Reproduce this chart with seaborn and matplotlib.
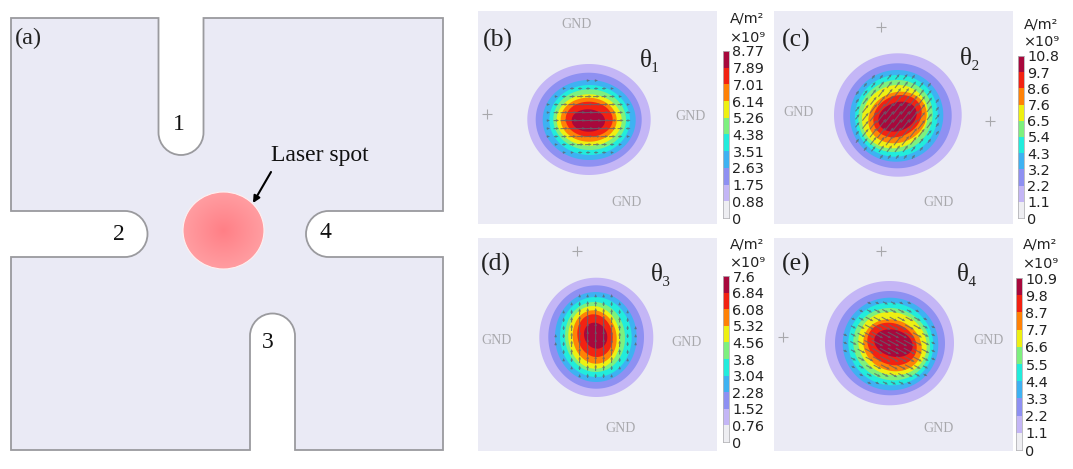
import numpy as np
import matplotlib
matplotlib.use("Agg")
import matplotlib.pyplot as plt
import seaborn as sns
from matplotlib.colors import ListedColormap, LinearSegmentedColormap
from matplotlib.patches import Ellipse, PathPatch, Rectangle
from matplotlib.path import Path

sns.set_theme(style="white")
SERIF = ["Liberation Serif", "DejaVu Sans"]
SANS = ["DejaVu Sans"]

W, H = 1073, 469

# Band colours of the current-density scale, lowest to highest
band_colors = ["#eeeef2", "#c4b6f6", "#8e90f2", "#3eb2f2", "#22ecdc",
               "#7df07e", "#eef012", "#ff8206", "#f22212", "#a8083c"]

# Scale values, top of the bar to the bottom
levels_b = [8.77, 7.89, 7.01, 6.14, 5.26, 4.38, 3.51, 2.63, 1.75, 0.88, 0]
levels_c = [10.8, 9.7, 8.6, 7.6, 6.5, 5.4, 4.3, 3.2, 2.2, 1.1, 0]
levels_d = [7.6, 6.84, 6.08, 5.32, 4.56, 3.8, 3.04, 2.28, 1.52, 0.76, 0]
levels_e = [10.9, 9.8, 8.7, 7.7, 6.6, 5.5, 4.4, 3.3, 2.2, 1.1, 0]

# Contour extents in pixels (left, right, top, bottom), outermost band first
contours_b = [(527.3, 650.7, 64, 175), (535.7, 641.7, 72.7, 166.7),
              (542.7, 635.7, 80, 160), (549.3, 630, 85, 155),
              (553.3, 626, 89.3, 150), (556.7, 621.7, 94.3, 145.7),
              (560.7, 616.7, 97.7, 141.7), (565.7, 612.7, 101.7, 136.7),
              (571.7, 605, 109.3, 131.7)]
contours_c = [(834, 961.7, 53.3, 176.7), (843.3, 951.7, 63.3, 168.3),
              (850, 943.3, 70, 161.7), (855, 937.7, 75, 156.7),
              (858.3, 932.7, 80, 152), (862, 928, 85, 148.3),
              (868.3, 926.7, 91.7, 143.3), (873.3, 921.7, 95, 137.3),
              (878.3, 916.7, 101.7, 131.7)]
contours_d = [(539.3, 653.3, 277.7, 397), (548.3, 644, 285.3, 388.7),
              (555, 636.7, 292, 382), (560, 631.7, 297, 377),
              (565, 625, 302, 372), (568.3, 620, 306, 368.7),
              (572.7, 616.7, 310.3, 363.7), (577.3, 612.7, 314.3, 357),
              (584, 607.3, 322.7, 348.7)]
contours_e = [(825, 954, 281, 405.3), (835, 945, 291, 395.3),
              (842.7, 938.3, 297.7, 390.3), (848.3, 933.3, 302.7, 385.3),
              (853.3, 930, 308, 380.3), (858.3, 926.7, 312, 375.3),
              (863.3, 921.7, 319.3, 371.3), (867.3, 916.7, 322.7, 365.3),
              (874.3, 912.7, 329.3, 357)]

# Current direction per panel in degrees and the skew of its innermost contour
directions = {"b": 3, "c": 52, "d": 88, "e": -28}
skews = {"b": 0.03, "c": -0.22, "d": 0.12, "e": 0.2}
arrow_scale = {"b": 10, "c": 15, "d": 10, "e": 13}

panel_boxes = {"b": (478, 717, 11, 224), "c": (774, 1013, 11, 224),
               "d": (478, 717, 238, 451), "e": (774, 1013, 238, 451)}
bar_boxes = {"b": (723, 729, 51, 218), "c": (1018, 1024, 56, 218),
             "d": (723, 729, 276, 442), "e": (1016, 1022, 278, 450)}
unit_pos = {"b": (747, 19, 38), "c": (1041, 25, 42),
            "d": (747, 245, 263), "e": (1040, 245, 264)}
panel_tag = {"b": (483, 40), "c": (782, 40), "d": (481, 264), "e": (782, 264)}
theta_tag = {"b": ("θ₁", 650, 60), "c": ("θ₂", 970, 58),
             "d": ("θ₃", 661, 275), "e": ("θ₄", 967, 275)}
gnd_labels = {"b": [(576, 24), (691, 116), (627, 203)],
              "c": [(799, 113), (938, 203)],
              "d": [(496, 341), (687, 343), (620, 428)],
              "e": [(989, 341), (938, 428)]}
plus_marks = {"b": [(487, 114.5)], "c": [(881, 27), (990, 121)],
              "d": [(577, 251)], "e": [(783, 337), (881, 251)]}
all_levels = {"b": levels_b, "c": levels_c, "d": levels_d, "e": levels_e}
all_contours = {"b": contours_b, "c": contours_c, "d": contours_d, "e": contours_e}

fig = plt.figure(figsize=(W / 100, H / 100), dpi=100, facecolor="white")
ax = fig.add_axes([0, 0, 1, 1])
ax.set_xlim(0, W)
ax.set_ylim(H, 0)
ax.axis("off")


def device_outline():
    """Cross-slotted sample outline with four rounded contact slots."""
    k = 0.5523
    L, R, T, B = 11, 443, 18, 450
    r = 22.5
    verts, codes = [(L, T)], [Path.MOVETO]

    def line(x, y):
        verts.append((x, y))
        codes.append(Path.LINETO)

    def arc(c1, c2, end):
        verts.extend([c1, c2, end])
        codes.extend([Path.CURVE4] * 3)

    # slot 1, from the top edge
    line(158.5, T)
    line(158.5, 132.5)
    arc((158.5, 132.5 + k * r), (181 - k * r, 155), (181, 155))
    arc((181 + k * r, 155), (203.5, 132.5 + k * r), (203.5, 132.5))
    line(203.5, T)
    line(R, T)
    # slot 4, from the right edge
    line(R, 211)
    line(328.5, 211)
    arc((328.5 - k * r, 211), (306, 234 - k * 23), (306, 234))
    arc((306, 234 + k * 23), (328.5 - k * r, 257), (328.5, 257))
    line(R, 257)
    line(R, B)
    # slot 3, from the bottom edge
    line(295, B)
    line(295, 336)
    arc((295, 336 - k * r), (272.5 + k * r, 313.5), (272.5, 313.5))
    arc((272.5 - k * r, 313.5), (250, 336 - k * r), (250, 336))
    line(250, B)
    line(L, B)
    # slot 2, from the left edge
    line(L, 257)
    line(125, 257)
    arc((125 + k * r, 257), (147.5, 234 + k * 23), (147.5, 234))
    arc((147.5, 234 - k * 23), (125 + k * r, 211), (125, 211))
    line(L, 211)
    verts.append((L, T))
    codes.append(Path.CLOSEPOLY)
    return Path(verts, codes)


ax.add_patch(PathPatch(device_outline(), facecolor="#eaeaf5", edgecolor="#9a9a9e", lw=1.3))

# Laser spot: soft radial fill clipped to the spot outline
spot_cx, spot_cy, spot_rx, spot_ry = 223.5, 230.5, 40.5, 38.5
gx, gy = np.meshgrid(np.linspace(-1, 1, 120), np.linspace(-1, 1, 120))
spot_map = LinearSegmentedColormap.from_list("spot", ["#ff7f86", "#ff9da1"])
spot_img = ax.imshow(np.hypot(gx, gy), cmap=spot_map, vmin=0, vmax=1, aspect="auto", zorder=2,
                     extent=(spot_cx - spot_rx, spot_cx + spot_rx, spot_cy + spot_ry, spot_cy - spot_ry))
ax.set_xlim(0, W)
ax.set_ylim(H, 0)
spot_edge = Ellipse((spot_cx, spot_cy), 2 * spot_rx, 2 * spot_ry, facecolor="none",
                    edgecolor="#fff0f0", lw=0.8, zorder=3)
ax.add_patch(spot_edge)
spot_img.set_clip_path(spot_edge)

ax.annotate("", xy=(253, 203), xytext=(271, 172), zorder=4,
            arrowprops=dict(arrowstyle="-|>", color="black", lw=1.5, mutation_scale=10,
                            shrinkA=0, shrinkB=0))
ax.text(320, 156, "Laser spot", family=SERIF, fontsize=17, color="#111111", ha="center", va="center")
ax.text(15, 38, "(a)", family=SERIF, fontsize=17.5, color="#222222", ha="left", va="center")
for label, x, y in [("1", 179, 125), ("2", 119, 234), ("3", 268, 342), ("4", 325, 233)]:
    ax.text(x, y, label, family=SERIF, fontsize=17, color="#111111", ha="center", va="center")


def band_outline(extent, skew):
    left, right, top, bottom = extent
    t = np.linspace(0, 2 * np.pi, 160)
    cx, cy = (left + right) / 2, (top + bottom) / 2
    rx, ry = (right - left) / 2, (bottom - top) / 2
    return cx + rx * np.cos(t), cy + ry * np.sin(t + skew)


for key, box in panel_boxes.items():
    x0, x1, y0, y1 = box
    ax.add_patch(Rectangle((x0, y0), x1 - x0, y1 - y0, facecolor="#ebebf5", edgecolor="none", zorder=1))

    # Filled contour bands, outermost first; the tilt grows toward the core
    count = len(all_contours[key])
    outlines = [band_outline(extent, skews[key] * (i / (count - 1)) ** 2)
                for i, extent in enumerate(all_contours[key])]
    for i, (ox, oy) in enumerate(outlines):
        ax.fill(ox, oy, color=band_colors[i + 1], lw=0, zorder=2 + i * 0.01)

    # Current-density arrows on a regular grid, scaled by the local band
    inner = all_contours[key]
    icx = (inner[-1][0] + inner[-1][1]) / 2
    icy = (inner[-1][2] + inner[-1][3]) / 2
    gx_, gy_ = np.meshgrid(np.arange(icx - 64, icx + 65, 8), np.arange(icy - 64, icy + 65, 8))
    mags = np.zeros(gx_.shape)
    for i, (ox, oy) in enumerate(outlines):
        path = Path(np.column_stack([ox, oy]))
        hit = path.contains_points(np.column_stack([gx_.ravel(), gy_.ravel()])).reshape(gx_.shape)
        mags[hit] = (i + 1) / len(outlines)
    ang = np.deg2rad(directions[key])
    length = mags * arrow_scale[key]
    keep = mags >= 3 / 9
    ax.quiver(gx_[keep], gy_[keep], (length * np.cos(ang))[keep], (length * np.sin(ang))[keep],
              angles="uv", scale_units="xy", scale=1, pivot="mid", color="#5f6670", alpha=0.8,
              width=0.0010, headwidth=2.6, headlength=3, headaxislength=2.8, zorder=3)
    ax.set_xlim(0, W)
    ax.set_ylim(H, 0)

    for gnd_x, gnd_y in gnd_labels[key]:
        ax.text(gnd_x, gnd_y, "GND", family=SERIF, fontsize=10, color="#a8a8ac",
                ha="center", va="center", zorder=4)
    for plus_x, plus_y in plus_marks[key]:
        ax.plot([plus_x], [plus_y], marker="+", ms=7.5, mew=0.8, color="#a8a8ac", ls="none", zorder=4)

    tag_x, tag_y = panel_tag[key]
    ax.text(tag_x, tag_y, f"({key})", family=SERIF, fontsize=18.5, color="#222222",
            ha="left", va="center", zorder=4)
    theta, th_x, th_y = theta_tag[key]
    ax.text(th_x, th_y, theta, family=SERIF, fontsize=18, color="#222222",
            ha="center", va="center", zorder=4)

    # Scale bar drawn as a one-column heatmap of band midpoints
    bx0, bx1, by0, by1 = bar_boxes[key]
    levels = all_levels[key]
    cax = fig.add_axes([bx0 / W, 1 - by1 / H, (bx1 - bx0) / W, (by1 - by0) / H])
    mids = np.array([(levels[i] + levels[i + 1]) / 2 for i in range(len(levels) - 1)])
    sns.heatmap(mids[:, None], ax=cax, cmap=ListedColormap(band_colors), vmin=0, vmax=levels[0],
                cbar=False, xticklabels=False, yticklabels=False)
    cax.yaxis.tick_right()
    cax.set_yticks(np.arange(len(levels)))
    cax.set_yticklabels([f"{v:g}" for v in levels], rotation=0, fontsize=10.4,
                        family=SANS, color="#222222")
    cax.tick_params(axis="y", length=0, pad=2.5, right=False, left=False)
    for side in cax.spines.values():
        side.set_visible(True)
        side.set_color("#b4b4b8")
        side.set_linewidth(0.6)

    ux, uy1, uy2 = unit_pos[key]
    ax.text(ux, uy1, "A/m²", family=SANS, fontsize=10.4, color="#222222", ha="center", va="center", zorder=4)
    ax.text(ux, uy2, "×10⁹", family=SANS, fontsize=10.4, color="#222222", ha="center", va="center", zorder=4)

fig.savefig("out.png", dpi=100, facecolor="white")
